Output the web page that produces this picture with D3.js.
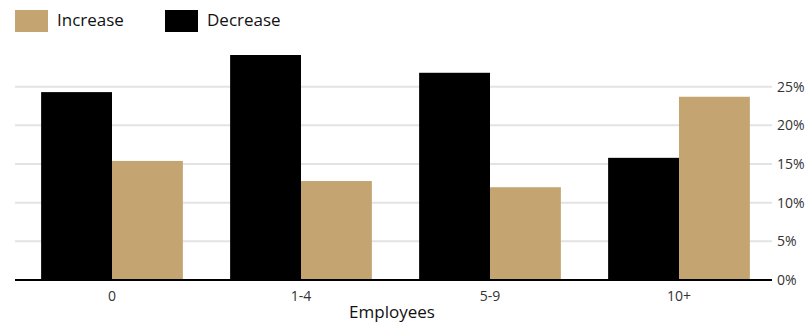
<!DOCTYPE html>
<html><head><meta charset="utf-8">
<script src="https://cdn.jsdelivr.net/npm/d3@7"></script>
<style>body{margin:0;background:#fff;} text{font-family:"Open Sans", sans-serif;}</style>
</head><body>
<svg id="c" width="807" height="322"></svg>
<script>
const categories = ["0", "1-4", "5-9", "10+"];
const seriesNames = ["Decrease", "Increase"];
const decrease = [24.3, 29.1, 26.8, 15.8];
const increase = [15.4, 12.8, 12.0, 23.7];
const yTicks = [0, 5, 10, 15, 20, 25];
const colors = {Increase: "#c4a572", Decrease: "#000000"};

(function () {
const svg = d3.select("#c");
const mLeft = 15, mRight = 772, mBottom = 280;
const x = d3.scaleBand().domain(categories).range([mLeft + 2.5, mRight + 1.5]).paddingInner(0.25).paddingOuter(0.125);
const xs = d3.scaleBand().domain(seriesNames).range([0, x.bandwidth()]);
const y = d3.scaleLinear().domain([0, 25]).range([mBottom, mBottom - 193.3]);

svg.append("g").selectAll("line").data(yTicks.filter(d => d > 0)).join("line")
  .attr("x1", mLeft).attr("x2", mRight)
  .attr("y1", d => y(d)).attr("y2", d => y(d))
  .attr("stroke", "#e3e3e3").attr("stroke-width", 2);

const rows = categories.map((c, i) => ({c, Decrease: decrease[i], Increase: increase[i]}));
svg.append("g").selectAll("g").data(rows).join("g")
  .attr("transform", d => `translate(${x(d.c)},0)`)
  .selectAll("rect").data(d => seriesNames.map(k => ({k, v: d[k]}))).join("rect")
  .attr("x", d => xs(d.k)).attr("width", xs.bandwidth())
  .attr("y", d => y(d.v)).attr("height", d => y(0) - y(d.v))
  .attr("fill", d => colors[d.k]);

svg.append("line").attr("x1", mLeft).attr("x2", mRight).attr("y1", y(0)).attr("y2", y(0))
  .attr("stroke", "#000").attr("stroke-width", 2);

const ya = svg.append("g").attr("transform", `translate(${mRight},0)`)
  .call(d3.axisRight(y).tickValues(yTicks).tickFormat(d => d + "%").tickSize(0).tickPadding(5));
ya.select(".domain").remove();
ya.selectAll("text").attr("font-size", 14).attr("fill", "#333").style("font-family", "'Open Sans', sans-serif");

const xa = svg.append("g").attr("transform", `translate(0,${y(0)})`)
  .call(d3.axisBottom(x).tickSize(0).tickPadding(11));
xa.select(".domain").remove();
xa.selectAll("text").attr("font-size", 14).attr("fill", "#333").style("font-family", "'Open Sans', sans-serif");

svg.append("text").attr("x", 392).attr("y", 318).attr("text-anchor", "middle")
  .attr("font-size", 17).attr("fill", "#111").text("Employees");

const legend = [{k: "Increase", x: 15}, {k: "Decrease", x: 165}];
const lg = svg.append("g").selectAll("g").data(legend).join("g")
  .attr("transform", d => `translate(${d.x},10)`);
lg.append("rect").attr("width", 33).attr("height", 22).attr("fill", d => colors[d.k]);
lg.append("text").attr("x", 42).attr("y", 16).attr("font-size", 17).attr("fill", "#111").text(d => d.k);
})();
</script>
</body></html>
